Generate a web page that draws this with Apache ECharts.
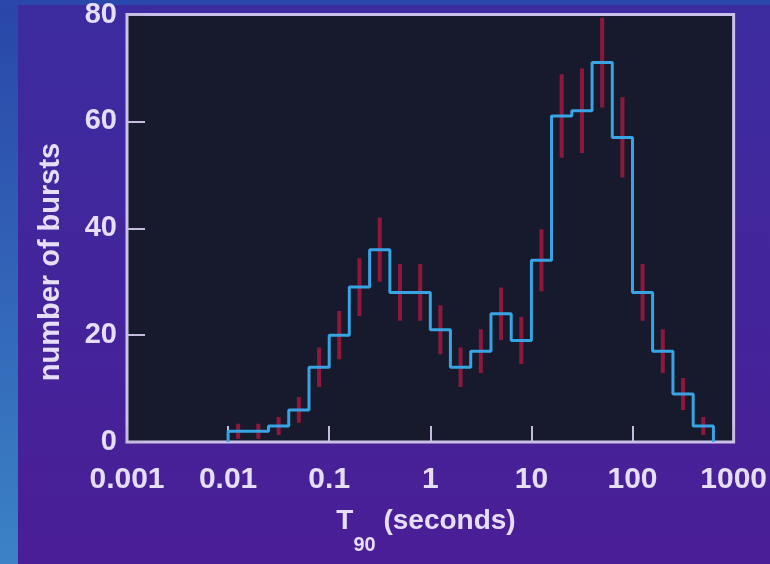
<!DOCTYPE html>
<html><head><meta charset="utf-8">
<script src="https://cdn.jsdelivr.net/npm/echarts@6/dist/echarts.min.js"></script>
<style>html,body{margin:0;padding:0;background:#3d2ca0}#c{width:770px;height:564px}</style>
</head><body><div id="c"></div>
<script>
// Bin edges (seconds), 0.2 dex wide
const binEdges = [0.01, 0.0158, 0.0251, 0.0398, 0.0631, 0.1, 0.158, 0.251, 0.398, 0.631,
                  1, 1.58, 2.51, 3.98, 6.31, 10, 15.8, 25.1, 39.8, 63.1, 100, 158, 251, 398, 631];
// Number of bursts per bin
const burstCounts = [2, 2, 3, 6, 14, 20, 29, 36, 28, 28, 21, 14, 17, 24, 19, 34, 61, 62, 71, 57, 28, 17, 9, 3];
// Error bar half-lengths per bin
const countErrors = [1.4, 1.4, 1.7, 2.4, 3.7, 4.5, 5.4, 6.0, 5.3, 5.3, 4.6, 3.7, 4.1, 4.9, 4.4, 5.8, 7.8, 7.9, 8.4, 7.5, 5.3, 4.1, 3.0, 1.7];
const xTickLabels = ['0.001', '0.01', '0.1', '1', '10', '100', '1000'];
const yTickLabels = ['0', '20', '40', '60', '80'];

const stepData = [[binEdges[0], 0]];
burstCounts.forEach((v, i) => { stepData.push([binEdges[i], v]); stepData.push([binEdges[i + 1], v]); });
stepData.push([binEdges[binEdges.length - 1], 0]);
const errData = burstCounts.map((v, i) => [Math.sqrt(binEdges[i] * binEdges[i + 1]), v, countErrors[i]]);

const txt = '#e6def8';
const FF = '"Liberation Sans", Arial, sans-serif';
const chart = echarts.init(document.getElementById('c'), null, {renderer: 'canvas'});
chart.setOption({
  animation: false,
  backgroundColor: {type: 'linear', x: 0, y: 0, x2: 0, y2: 1,
    colorStops: [{offset: 0, color: '#3c2ca0'}, {offset: 1, color: '#4a1e96'}]},
  grid: {left: 127, right: 34, top: 11, bottom: 122, show: true,
         backgroundColor: '#161a2c', borderColor: '#c9c1ea', borderWidth: 3},
  xAxis: {
    type: 'log', logBase: 10, min: 0.001, max: 1000, splitNumber: 6,
    axisLine: {show: false},
    axisTick: {inside: true, length: 16, lineStyle: {color: '#c4bcdc', width: 2}},
    minorTick: {show: false}, splitLine: {show: false},
    axisLabel: {color: txt, fontSize: 30, fontWeight: 'bold', fontFamily: FF, margin: 23,
                showMinLabel: true, showMaxLabel: true, hideOverlap: false,
                formatter: v => xTickLabels[Math.round(Math.log10(v)) + 3]}
  },
  yAxis: {
    type: 'value', min: 0, max: 80, interval: 20,
    axisLine: {show: false},
    axisTick: {inside: true, length: 18, lineStyle: {color: '#c4bcdc', width: 2}},
    splitLine: {show: false},
    axisLabel: {color: txt, fontSize: 29, fontWeight: 'bold', fontFamily: FF, margin: 10,
                formatter: v => yTickLabels[Math.round(v / 20)]}
  },
  graphic: [
    {type: 'rect', shape: {x: 0, y: 0, width: 18, height: 564},
     style: {fill: new echarts.graphic.LinearGradient(0, 0, 0, 1, [{offset: 0, color: '#2946a8'}, {offset: 1, color: '#3b82c6'}])}},
    {type: 'rect', shape: {x: 0, y: 0, width: 770, height: 5}, style: {fill: '#2a48ac'}},
    {type: 'text', x: 51, y: 262, rotation: Math.PI / 2,
     style: {text: 'number of bursts', fill: txt, fontSize: 29, fontWeight: 'bold', fontFamily: FF,
             align: 'center', verticalAlign: 'middle'}},
    {type: 'text', x: 426, y: 507,
     style: {text: '{t|T}{s|90}{t| (seconds)}', align: 'center', verticalAlign: 'top', fill: txt,
             rich: {
               t: {fontSize: 28, fontWeight: 'bold', fontFamily: FF, fill: txt, color: txt, lineHeight: 30, verticalAlign: 'top'},
               s: {fontSize: 20, fontWeight: 'bold', fontFamily: FF, fill: txt, color: txt, lineHeight: 20, padding: [28, 0, 0, 0], verticalAlign: 'top'}
             }}}
  ],
  series: [
    {type: 'custom', data: errData, z: 2, clip: true,
     encode: {x: 0, y: 1},
     renderItem: (params, api) => {
       const x = api.value(0), v = api.value(1), e = api.value(2);
       const p1 = api.coord([x, Math.max(0, v - e)]);
       const p2 = api.coord([x, v + e]);
       return {type: 'line', shape: {x1: p1[0], y1: p1[1], x2: p2[0], y2: p2[1]},
               style: {stroke: '#a3193f', lineWidth: 4, opacity: 0.85}};
     }},
    {type: 'line', data: stepData, z: 3, showSymbol: false, symbol: 'none',
     lineStyle: {color: '#38a4e4', width: 3}}
  ]
});
</script></body></html>
